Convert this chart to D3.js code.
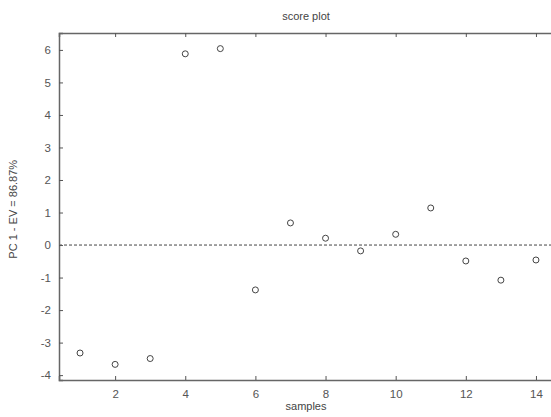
<!DOCTYPE html>
<html>
<head>
<meta charset="utf-8">
<script src="https://cdn.jsdelivr.net/npm/d3@7"></script>
<style>
body { margin:0; background:#fff; }
svg { display:block; font-family:"Liberation Sans", Arial, sans-serif; }
.tick text { fill:#555; font-size:11.5px; }
</style>
</head>
<body>
<div id="chart"></div>
<script>
// sample number and PC1 score
var samples = [1,2,3,4,5,6,7,8,9,10,11,12,13,14];
var scores  = [-3.32,-3.67,-3.49,5.88,6.04,-1.38,0.68,0.21,-0.18,0.33,1.14,-0.49,-1.08,-0.46];
var xTicks  = [2,4,6,8,10,12,14];
var yTicks  = [-4,-3,-2,-1,0,1,2,3,4,5,6];

var W=551, H=417;
var margin={top:33, right:-6, bottom:37, left:59};

var svg = d3.select("#chart").append("svg")
			.attr("width", W)
			.attr("height", H);

var x = d3.scaleLinear()
			.domain([0.4, 14.6])
			.range([margin.left, W-margin.right]);

var y = d3.scaleLinear()
			.domain([-4.15, 6.52])
			.range([H-margin.bottom, margin.top]);

var axisCol="#666";
var plain=function(d){ return String(d); }; // hyphen minus like the original

// zero line
svg.append("line")
	.attr("x1", x(0.4)).attr("x2", x(14.6))
	.attr("y1", y(0)).attr("y2", y(0))
	.style("stroke", "#444")
	.style("stroke-width", 1)
	.style("stroke-dasharray", "3,2");

// axes, ticks pointing inward
var gx = svg.append("g")
	.attr("transform", "translate(0,"+y(-4.15)+")")
	.call(d3.axisBottom(x).tickValues(xTicks).tickSize(-4).tickPadding(10).tickFormat(plain));

var gxTop = svg.append("g")
	.attr("transform", "translate(0,"+y(6.52)+")")
	.call(d3.axisTop(x).tickValues(xTicks).tickSize(-4).tickFormat(""));

var gy = svg.append("g")
	.attr("transform", "translate("+x(0.4)+",0)")
	.call(d3.axisLeft(y).tickValues(yTicks).tickSize(-4).tickPadding(8).tickFormat(plain));

[gx, gxTop, gy].forEach(function(g){
	g.select(".domain").style("stroke", axisCol).style("stroke-width", 1.5);
	g.selectAll(".tick line").style("stroke", "#555");
});

// points
svg.append("g").selectAll("circle")
	.data(samples)
	.enter().append("circle")
	.attr("cx", function(d){ return x(d); })
	.attr("cy", function(d,i){ return y(scores[i]); })
	.attr("r", 3)
	.style("fill", "none")
	.style("stroke", "#444")
	.style("stroke-width", 1);

// labels
svg.append("text")
	.attr("x", 306).attr("y", 20)
	.attr("text-anchor", "middle")
	.style("font-size", "11px").style("fill", "#444")
	.text("score plot");

svg.append("text")
	.attr("x", 306).attr("y", 410)
	.attr("text-anchor", "middle")
	.style("font-size", "11px").style("fill", "#444")
	.text("samples");

svg.append("text")
	.attr("transform", "translate(17,"+y(1.1)+") rotate(-90)")
	.attr("text-anchor", "middle")
	.style("font-size", "11px").style("fill", "#444")
	.text("PC 1 - EV = 86.87%");
</script>
</body>
</html>
